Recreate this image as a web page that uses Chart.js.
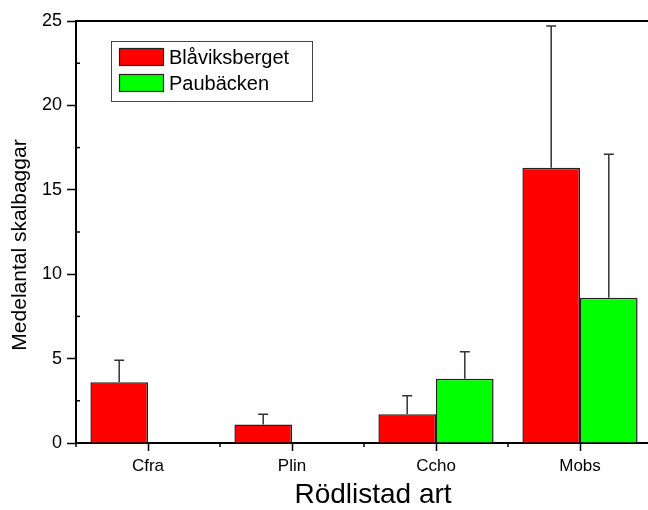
<!DOCTYPE html>
<html>
<head>
<meta charset="utf-8">
<script src="https://cdn.jsdelivr.net/npm/chart.js@4"></script>
<style>
    html, body { margin: 0; padding: 0; background: #fff; overflow: hidden; }
    #wrap { width: 648px; height: 510px; overflow: hidden; }
</style>
</head>
<body>
<div id="wrap">
    <canvas id="rodlistadChart" width="660" height="510"></canvas>
</div>
<script>
// Chart data
const categories = ['Cfra', 'Plin', 'Ccho', 'Mobs'];
const blaviksberget = [3.6, 1.1, 1.7, 16.3];
const blaviksbergetErr = [1.3, 0.6, 1.1, 8.4];
const paubacken = [null, null, 3.8, 8.6];
const paubackenErr = [null, null, 1.6, 8.5];
const yTicks = [0, 5, 10, 15, 20, 25];

const xTitle = 'Rödlistad art';
const yTitle = 'Medelantal skalbaggar';

const FONT = "'Liberation Sans', Arial, sans-serif";

// Error bars, minor ticks, top frame line, titles, legend
const extrasPlugin = {
    id: 'extras',
    afterDatasetsDraw(chart) {
        const ctx = chart.ctx;
        const y = chart.scales.y;
        ctx.save();
        ctx.strokeStyle = '#333';
        ctx.lineWidth = 1.5;
        chart.data.datasets.forEach(function(ds, i) {
            const meta = chart.getDatasetMeta(i);
            ds.errors.forEach(function(err, j) {
                if (err == null || ds.data[j] == null) return;
                const bar = meta.data[j];
                const yTop = y.getPixelForValue(ds.data[j] + err);
                ctx.beginPath();
                ctx.moveTo(bar.x, bar.y);
                ctx.lineTo(bar.x, yTop);
                ctx.moveTo(bar.x - 5, yTop);
                ctx.lineTo(bar.x + 5, yTop);
                ctx.stroke();
            });
        });
        ctx.restore();
    },
    afterDraw(chart) {
        const ctx = chart.ctx;
        const area = chart.chartArea;
        const x = chart.scales.x;
        const y = chart.scales.y;
        ctx.save();
        ctx.strokeStyle = '#000';
        ctx.lineWidth = 2;
        // top frame
        ctx.beginPath();
        ctx.moveTo(area.left, area.top);
        ctx.lineTo(area.right, area.top);
        ctx.stroke();
        // minor y ticks (inside)
        ctx.lineWidth = 1.5;
        for (let k = 0; k < yTicks.length - 1; k++) {
            const py = y.getPixelForValue((yTicks[k] + yTicks[k + 1]) / 2);
            ctx.beginPath();
            ctx.moveTo(area.left, py);
            ctx.lineTo(area.left + 4, py);
            ctx.stroke();
        }
        // minor x ticks at category boundaries
        for (let k = 0; k <= categories.length; k++) {
            const px = x.getPixelForValue(k - 0.5);
            ctx.beginPath();
            ctx.moveTo(px, area.bottom);
            ctx.lineTo(px, area.bottom + 4);
            ctx.stroke();
        }

        // axis titles
        ctx.fillStyle = '#000';
        ctx.font = '28px ' + FONT;
        ctx.textAlign = 'center';
        ctx.textBaseline = 'alphabetic';
        ctx.fillText(xTitle, 373, 503);
        ctx.save();
        ctx.translate(20.5, 245);
        ctx.rotate(-Math.PI / 2);
        ctx.font = '21px ' + FONT;
        ctx.textBaseline = 'middle';
        ctx.fillText(yTitle, 0, 0);
        ctx.restore();

        // legend box
        ctx.fillStyle = '#fff';
        ctx.fillRect(111, 41, 202, 61);
        ctx.strokeStyle = '#444';
        ctx.lineWidth = 1;
        ctx.strokeRect(111.5, 41.5, 201, 60);
        chart.data.datasets.forEach(function(ds, i) {
            const top = 48 + i * 26;
            ctx.fillStyle = ds.backgroundColor;
            ctx.fillRect(119, top, 45, 18);
            ctx.strokeStyle = '#222';
            ctx.lineWidth = 1.2;
            ctx.strokeRect(119.5, top + 0.5, 44, 17);
            ctx.fillStyle = '#000';
            ctx.font = '20px ' + FONT;
            ctx.textBaseline = 'middle';
            ctx.textAlign = 'left';
            ctx.fillText(ds.label, 169, top + 10);
        });
        ctx.restore();
    }
};

new Chart(document.getElementById('rodlistadChart'), {
    type: 'bar',
    data: {
        labels: categories,
        datasets: [
            {
                label: 'Blåviksberget',
                data: blaviksberget,
                errors: blaviksbergetErr,
                backgroundColor: '#ff0000',
                borderColor: '#222',
                borderWidth: 1.5,
                categoryPercentage: 0.8,
                barPercentage: 1.0
            },
            {
                label: 'Paubäcken',
                data: paubacken,
                errors: paubackenErr,
                backgroundColor: '#00ff00',
                borderColor: '#222',
                borderWidth: 1.5,
                categoryPercentage: 0.8,
                barPercentage: 1.0
            }
        ]
    },
    options: {
        responsive: false,
        animation: false,
        layout: {
            padding: { top: 21, right: 8, left: 0, bottom: 0 }
        },
        plugins: {
            legend: { display: false },
            tooltip: { enabled: false }
        },
        scales: {
            x: {
                afterFit: function(scale) { scale.height = 67; },
                grid: {
                    offset: false,
                    drawOnChartArea: false,
                    drawTicks: true,
                    tickLength: 8,
                    tickColor: '#000',
                    tickWidth: 1.5
                },
                border: { display: true, color: '#000', width: 2 },
                ticks: {
                    color: '#000',
                    padding: 5,
                    font: { family: FONT, size: 17 }
                }
            },
            y: {
                min: 0,
                max: 25,
                afterFit: function(scale) { scale.width = 76; },
                afterBuildTicks: function(scale) {
                    scale.ticks = yTicks.map(function(v) { return { value: v }; });
                },
                grid: {
                    drawOnChartArea: false,
                    drawTicks: true,
                    tickLength: 9,
                    tickColor: '#000',
                    tickWidth: 1.5
                },
                border: { display: true, color: '#000', width: 2 },
                ticks: {
                    color: '#000',
                    padding: 5,
                    font: { family: FONT, size: 18 }
                }
            }
        }
    },
    plugins: [extrasPlugin]
});
</script>
</body>
</html>
